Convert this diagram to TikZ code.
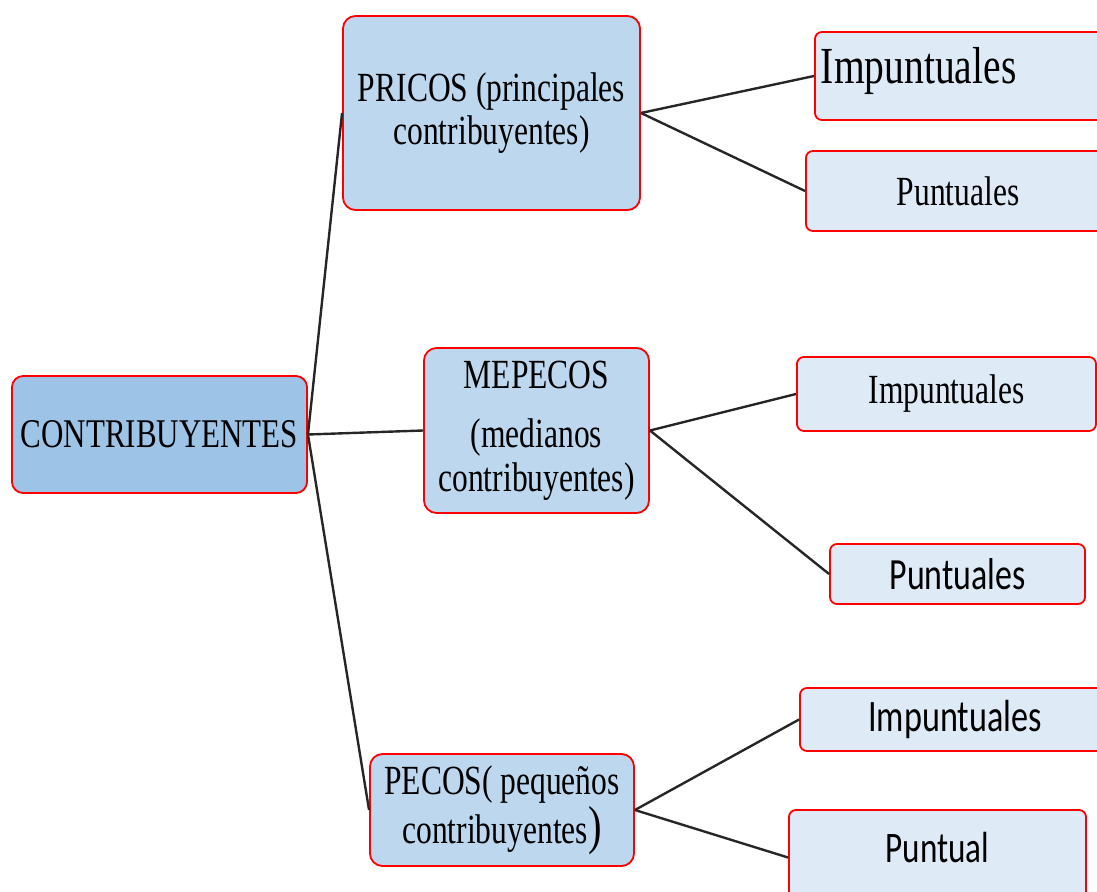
\documentclass[tikz,border=0pt]{standalone}
\usepackage{fontspec}
\setmainfont{Liberation Serif}
\newfontfamily\serifc[FakeStretch=0.76]{Liberation Serif}
\newfontfamily\sansc[FakeStretch=0.76]{Carlito}
\usepackage{tikz}
\usetikzlibrary{positioning}
\usepackage{xcolor}
\definecolor{rootblue}{HTML}{9DC3E6}
\definecolor{midblue}{HTML}{BDD7EE}
\definecolor{leafblue}{HTML}{DEEBF7}

\begin{document}
\begin{tikzpicture}[
  x=0.025cm, y=-0.025cm,
  root/.style={draw=red, line width=1.3pt, rounded corners=8pt, fill=rootblue, inner sep=0pt, align=center},
  mid/.style={draw=red, line width=1.3pt, rounded corners=9pt, fill=midblue, inner sep=0pt, align=center},
  leaf/.style={draw=red, line width=1.3pt, rounded corners=5pt, fill=leafblue, inner sep=0pt, align=center},
  link/.style={line width=1.7pt, draw=black!85}
]
\clip (0,0) rectangle (1097,892);

% Root
\node[root, minimum width=7.375cm, minimum height=2.925cm, font=\serifc\fontsize{29}{32}\selectfont] (contrib) at (159.5,434.5)
  {CONTRIBUYENTES};

% Second level
\node[mid, minimum width=7.425cm, minimum height=4.85cm, font=\serifc\fontsize{29.5}{30.6}\selectfont] (pricos) at (491.5,113)
  {PRICOS (principales\\contribuyentes)};
\node[mid, minimum width=5.625cm, minimum height=4.125cm, font=\serifc\fontsize{29.5}{31}\selectfont] (mepecos) at (536.5,430.5)
  {MEPECOS\\[11pt](medianos\\contribuyentes)};
\node[mid, minimum width=6.6cm, minimum height=2.8cm, font=\serifc\fontsize{29.5}{35}\selectfont] (pecos) at (502,810)
  {PECOS( peque\~nos\\contribuyentes{\fontsize{38}{35}\selectfont)}};

% Leaves
\node[leaf, minimum width=7.5cm, minimum height=2.2cm, text width=7.2cm, align=left, text depth=0.55cm,
  font=\serifc\fontsize{37}{38}\selectfont] (imp1) at (965,76) {Impuntuales};
\node[leaf, minimum width=7.6cm, minimum height=2.0cm, font=\serifc\fontsize{29.5}{31}\selectfont] (punt1) at (958,191)
  {Puntuales};
\node[leaf, minimum width=7.475cm, minimum height=1.85cm, font=\serifc\fontsize{29.5}{31}\selectfont] (imp2) at (946.5,394)
  {Impuntuales};
\node[leaf, minimum width=6.375cm, minimum height=1.5cm, font=\sansc\fontsize{31.7}{34}\selectfont] (punt2) at (957.5,574)
  {Puntuales};
\node[leaf, minimum width=7.75cm, minimum height=1.575cm, font=\sansc\fontsize{32}{33}\selectfont] (imp3) at (955,719.5)
  {Impuntuales};
\node[leaf, minimum width=7.425cm, minimum height=2.375cm, text depth=0.5cm, font=\sansc\fontsize{31}{34}\selectfont] (puntual) at (937.5,857.5)
  {Puntual};

% Connectors
\draw[link] (contrib.east) -- (pricos.west);
\draw[link] (contrib.east) -- (mepecos.west);
\draw[link] (contrib.east) -- (pecos.west);
\draw[link] (pricos.east) -- (imp1.west);
\draw[link] (pricos.east) -- (punt1.west);
\draw[link] (mepecos.east) -- (imp2.west);
\draw[link] (mepecos.east) -- (punt2.west);
\draw[link] (pecos.east) -- (imp3.west);
\draw[link] (pecos.east) -- (puntual.west);
\end{tikzpicture}
\end{document}
